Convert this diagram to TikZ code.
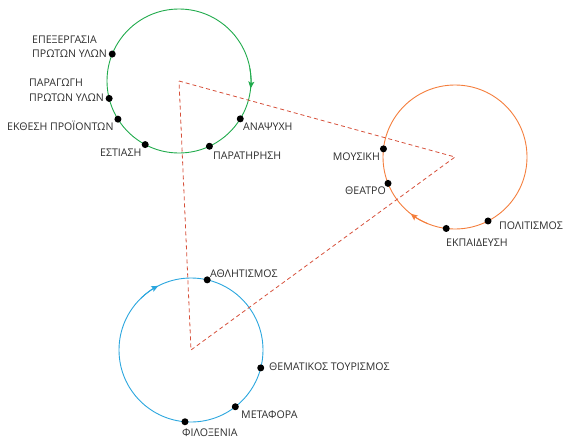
\documentclass[tikz,border=0pt]{standalone}
\usepackage{fontspec}
\setmainfont{Open Sans}
\usetikzlibrary{arrows.meta}
\definecolor{cgreen}{HTML}{1FAA4B}
\definecolor{corange}{HTML}{F47E3C}
\definecolor{cblue}{HTML}{2AA6DE}
\definecolor{cred}{HTML}{D6503A}
\definecolor{ctext}{HTML}{2E2E2E}
\begin{document}
\begin{tikzpicture}[x=1pt,y=-1pt,
  ring/.style={line width=0.9pt},
  tri/.style={cred, line width=0.8pt, dash pattern=on 4pt off 3pt},
  dot/.style={circle, fill=black, inner sep=0pt, minimum size=7pt},
  lbl/.style={text=ctext, font=\fontsize{10.6}{14}\selectfont, inner sep=0pt, align=left},
  tip/.style={-{Stealth[length=7pt,width=6pt,inset=1.5pt]}}
]
\useasboundingbox (0,0) rectangle (564,439);
\coordinate (gc) at (179,81);
\coordinate (oc) at (455,157);
\coordinate (bc) at (191,350);
% circles
\draw[ring, cgreen] (gc) circle[radius=72];
\draw[ring, corange] (oc) circle[radius=72];
\draw[ring, cblue] (bc) circle[radius=72];
% arrows
\draw[ring, cgreen, tip] ([shift={(-10:72)}]gc) arc[start angle=-10, end angle=6, radius=72];
\draw[ring, corange, tip] ([shift={(112:72)}]oc) arc[start angle=112, end angle=128, radius=72];
\draw[ring, cblue, tip] ([shift={(226:72)}]bc) arc[start angle=226, end angle=243, radius=72];
% triangle
\draw[tri] (gc) -- (oc) -- (bc) -- cycle;
% green dots
\node[dot] (g1) at ([shift={(202:72)}]gc) {};
\node[dot] (g2) at ([shift={(166:72)}]gc) {};
\node[dot] (g3) at ([shift={(148:72)}]gc) {};
\node[dot] (g4) at ([shift={(118:72)}]gc) {};
\node[dot] (g5) at ([shift={(65:72)}]gc) {};
\node[dot] (g6) at ([shift={(31.7:72)}]gc) {};
% orange dots
\node[dot] (o1) at ([shift={(186.5:72)}]oc) {};
\node[dot] (o2) at ([shift={(158.5:72)}]oc) {};
\node[dot] (o3) at ([shift={(97:72)}]oc) {};
\node[dot] (o4) at ([shift={(62.7:72)}]oc) {};
% blue dots
\node[dot] (b1) at ([shift={(283:72)}]bc) {};
\node[dot] (b2) at ([shift={(14.4:72)}]bc) {};
\node[dot] (b3) at ([shift={(52:72)}]bc) {};
\node[dot] (b4) at ([shift={(94.8:72)}]bc) {};
% labels green
\node[lbl, anchor=west] (lg1) at (32,47) {ΕΠΕΞΕΡΓΑΣΙΑ\\ΠΡΩΤΩΝ ΥΛΩΝ};
\node[lbl, anchor=west] (lg2) at (29,90) {ΠΑΡΑΓΩΓΗ\\[1.5pt]ΠΡΩΤΩΝ ΥΛΩΝ};
\node[lbl, anchor=west] (lg3) at (7,126) {ΕΚΘΕΣΗ ΠΡΟΪΟΝΤΩΝ};
\node[lbl, anchor=west] (lg4) at (100,153) {ΕΣΤΙΑΣΗ};
\node[lbl, anchor=west] (lg5) at (213,156) {ΠΑΡΑΤΗΡΗΣΗ};
\node[lbl, anchor=west] (lg6) at (243,127) {ΑΝΑΨΥΧΗ};
% labels orange
\node[lbl, anchor=east] (lo1) at (380,157) {ΜΟΥΣΙΚΗ};
\node[lbl, anchor=east] (lo2) at (386,191) {ΘΕΑΤΡΟ};
\node[lbl, anchor=west] (lo3) at (446,243) {ΕΚΠΑΙΔΕΥΣΗ};
\node[lbl, anchor=west] (lo4) at (499,226) {ΠΟΛΙΤΙΣΜΟΣ};
% labels blue
\node[lbl, anchor=west] (lb1) at (210,274) {ΑΘΛΗΤΙΣΜΟΣ};
\node[lbl, anchor=west] (lb2) at (269,367) {ΘΕΜΑΤΙΚΟΣ ΤΟΥΡΙΣΜΟΣ};
\node[lbl, anchor=west] (lb3) at (241,415) {ΜΕΤΑΦΟΡΑ};
\node[lbl, anchor=west] (lb4) at (182,433) {ΦΙΛΟΞΕΝΙΑ};
\end{tikzpicture}
\end{document}
